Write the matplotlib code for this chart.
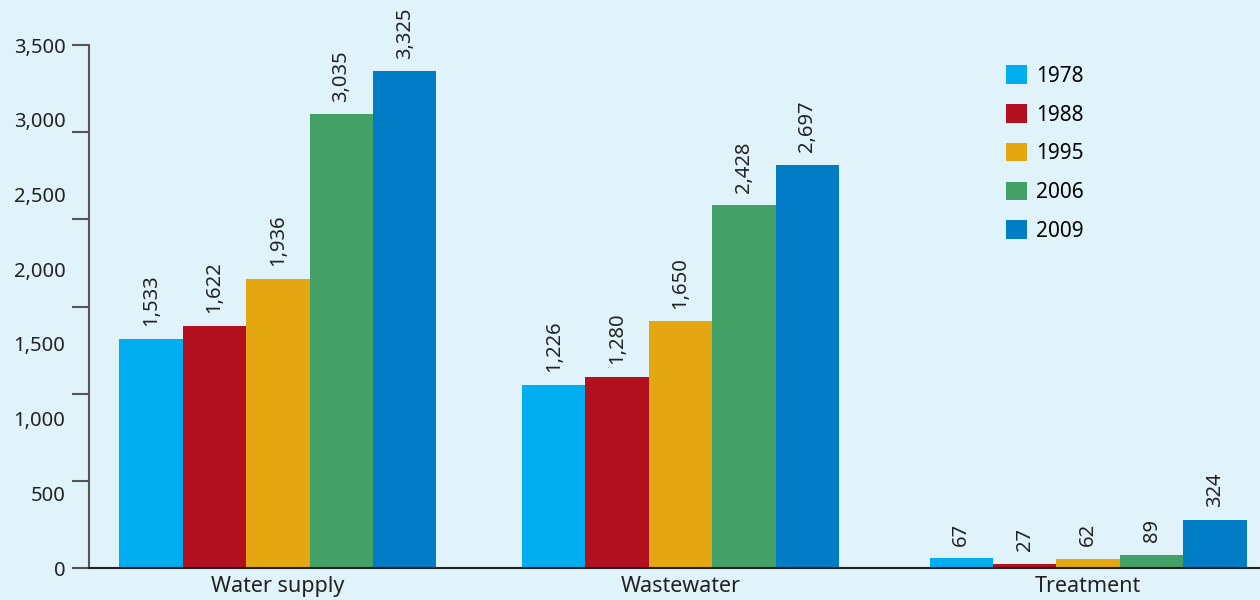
import numpy as np
import matplotlib.pyplot as plt
from matplotlib.ticker import FixedLocator

categories = ['Water supply', 'Wastewater', 'Treatment']
years = ['1978', '1988', '1995', '2006', '2009']
v1978 = [1533, 1226, 67]
v1988 = [1622, 1280, 27]
v1995 = [1936, 1650, 62]
v2006 = [3035, 2428, 89]
v2009 = [3325, 2697, 324]
series = [v1978, v1988, v1995, v2006, v2009]
colors = ['#00AEEF', '#B20F1F', '#E4A712', '#43A066', '#007DC5']
bg = '#E1F3FA'

plt.rcParams['font.family'] = ['Noto Sans', 'DejaVu Sans']

fig = plt.figure(figsize=(12.6, 6), dpi=100, facecolor=bg)
ax = fig.add_axes([0.0706, 0.0533, 0.9294, 0.8717])
ax.set_facecolor(bg)

centers = np.array([0.0, 6.35, 12.78])
width = 1.0
for i, (vals, col, yr) in enumerate(zip(series, colors, years)):
    xs = centers + (i - 2) * width
    bars = ax.bar(xs, vals, width=width, color=col, label=yr, zorder=2)
    for b, v in zip(bars, vals):
        ax.annotate(f'{v:,}', (b.get_x() + b.get_width() / 2, v),
                    xytext=(0, 9), textcoords='offset points',
                    rotation=90, ha='center', va='bottom',
                    fontsize=14.5, color='#222222')

ax.set_xlim(-2.98, 15.49)
ax.set_ylim(0, 3500)

# tick marks every 3500/6, labels every 500
ax.yaxis.remove_overlapping_locs = False
ax.yaxis.set_major_locator(FixedLocator(np.linspace(0, 3500, 7)))
ax.yaxis.set_minor_locator(FixedLocator(np.arange(0, 3501, 500)))
ax.yaxis.set_minor_formatter(plt.FuncFormatter(lambda v, p: f'{int(v):,}'))
ax.tick_params(axis='y', which='major', length=12, width=1.5, color='#555555',
               labelleft=False)
ax.tick_params(axis='y', which='minor', length=0, pad=17, labelsize=14.5,
               labelcolor='#222222')

ax.set_xticks(centers)
ax.set_xticklabels(categories)
ax.tick_params(axis='x', length=0, pad=6, labelsize=15.5, labelcolor='#222222')

for s in ['top', 'right']:
    ax.spines[s].set_visible(False)
ax.spines['left'].set_color('#555555')
ax.spines['left'].set_linewidth(1.5)
ax.spines['bottom'].set_color('#222222')
ax.spines['bottom'].set_linewidth(1.5)

ax.legend(loc='upper left', bbox_to_anchor=(0.767, 0.997), frameon=False,
          fontsize=15, handlelength=1.0, handleheight=1.0, handletextpad=0.45,
          labelspacing=0.83)

fig.savefig('out.png', dpi=100, facecolor=bg)
